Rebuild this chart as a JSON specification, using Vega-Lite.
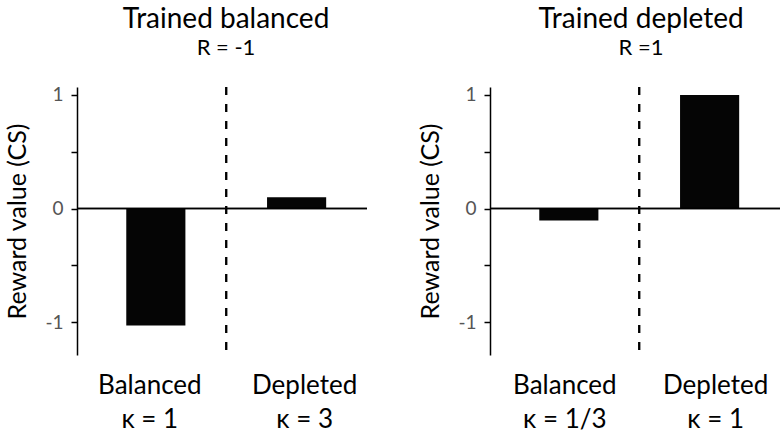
{
  "$schema": "https://vega.github.io/schema/vega-lite/v6.json",
  "padding": {"left": 5, "top": 5, "right": 2, "bottom": 0},
  "config": {
    "font": "Lato",
    "view": {"stroke": null},
    "axis": {"grid": false}
  },
  "datasets": {
    "left": [
      {"condition": "Balanced|κ = 1", "value": -1.03},
      {"condition": "Depleted|κ = 3", "value": 0.1}
    ],
    "right": [
      {"condition": "Balanced|κ = 1/3", "value": -0.105},
      {"condition": "Depleted|κ = 1", "value": 1.0}
    ]
  },
  "spacing": 50,
  "hconcat": [
    {
      "width": 290,
      "height": 268,
      "title": {"text": "Trained balanced", "subtitle": "R = -1", "fontSize": 28, "fontWeight": "normal", "color": "black", "subtitleFontSize": 22, "subtitleColor": "black", "subtitlePadding": 4, "offset": 27, "anchor": "middle", "dx": 4},
      "data": {"name": "left"},
      "layer": [
        {
          "mark": {"type": "bar", "color": "#050505", "width": {"band": 0.42}},
          "encoding": {
            "x": {
              "field": "condition", "type": "nominal", "sort": null,
              "scale": {"paddingInner": 0, "paddingOuter": 0.03, "align": 1},
              "axis": {"title": null, "domain": false, "ticks": false, "labelAngle": 0, "labelExpr": "split(datum.label, '|')", "labelFontSize": 26, "labelLineHeight": 34, "labelColor": "black", "labelPadding": 17, "labelOffset": {"condition": {"test": "indexof(datum.value, 'Balanced') == 0", "value": -6}, "value": 8}}
            },
            "y": {
              "field": "value", "type": "quantitative",
              "scale": {"domain": [-1.29, 1.07], "nice": false, "zero": false},
              "axis": {"title": "Reward value (CS)", "titleFontSize": 25, "titleFontWeight": "normal", "titleColor": "black", "titlePadding": 14, "values": [-1, -0.5, 0, 0.5, 1], "labelExpr": "datum.value == 1 ? '1' : datum.value == 0 ? '0' : datum.value == -1 ? '-1' : ''", "labelFontSize": 19, "labelColor": "#555555", "labelPadding": 8, "tickSize": 6, "tickWidth": 1.5, "tickColor": "black", "domainColor": "black", "domainWidth": 1.5}
            }
          }
        },
        {
          "mark": {"type": "rule", "strokeDash": [8, 9], "strokeWidth": 2, "color": "black"},
          "encoding": {"x": {"datum": "Depleted|κ = 3", "type": "nominal", "bandPosition": 0}}
        },
        {
          "mark": {"type": "rule", "strokeWidth": 1.5, "color": "black"},
          "encoding": {"y": {"datum": 0, "type": "quantitative"}}
        }
      ]
    },
    {
      "width": 290,
      "height": 268,
      "title": {"text": "Trained depleted", "subtitle": "R =1", "fontSize": 28, "fontWeight": "normal", "color": "black", "subtitleFontSize": 22, "subtitleColor": "black", "subtitlePadding": 4, "offset": 27, "anchor": "middle", "dx": 6},
      "data": {"name": "right"},
      "layer": [
        {
          "mark": {"type": "bar", "color": "#050505", "width": {"band": 0.42}},
          "encoding": {
            "x": {
              "field": "condition", "type": "nominal", "sort": null,
              "scale": {"paddingInner": 0, "paddingOuter": 0.03, "align": 1},
              "axis": {"title": null, "domain": false, "ticks": false, "labelAngle": 0, "labelExpr": "split(datum.label, '|')", "labelFontSize": 26, "labelLineHeight": 34, "labelColor": "black", "labelPadding": 17, "labelOffset": {"condition": {"test": "indexof(datum.value, 'Balanced') == 0", "value": -4}, "value": 6}}
            },
            "y": {
              "field": "value", "type": "quantitative",
              "scale": {"domain": [-1.29, 1.07], "nice": false, "zero": false},
              "axis": {"title": "Reward value (CS)", "titleFontSize": 25, "titleFontWeight": "normal", "titleColor": "black", "titlePadding": 14, "values": [-1, -0.5, 0, 0.5, 1], "labelExpr": "datum.value == 1 ? '1' : datum.value == 0 ? '0' : datum.value == -1 ? '-1' : ''", "labelFontSize": 19, "labelColor": "#555555", "labelPadding": 8, "tickSize": 6, "tickWidth": 1.5, "tickColor": "black", "domainColor": "black", "domainWidth": 1.5}
            }
          }
        },
        {
          "mark": {"type": "rule", "strokeDash": [8, 9], "strokeWidth": 2, "color": "black"},
          "encoding": {"x": {"datum": "Depleted|κ = 1", "type": "nominal", "bandPosition": 0}}
        },
        {
          "mark": {"type": "rule", "strokeWidth": 1.5, "color": "black"},
          "encoding": {"y": {"datum": 0, "type": "quantitative"}}
        }
      ]
    }
  ]
}
